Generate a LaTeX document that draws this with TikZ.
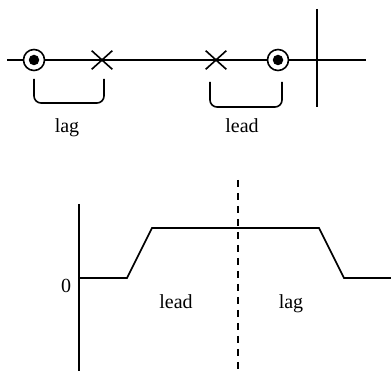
\documentclass[tikz,border=0pt]{standalone}
\usepackage{fontspec}
\setmainfont{Liberation Serif}
\usetikzlibrary{shapes.misc}
\begin{document}
\begin{tikzpicture}[x=1pt,y=-1pt,line width=1.6pt,
  pole/.style={circle,draw,fill=white,minimum size=21pt,inner sep=0pt},
  poledot/.style={circle,fill=black,minimum size=10.5pt,inner sep=0pt},
  zeromark/.style={cross out,draw,minimum width=19pt,minimum height=17pt,inner sep=0pt},
  lbl/.style={font=\fontsize{20}{20}\selectfont,anchor=base,inner sep=0pt},
  bracket/.style={rounded corners=7pt}]
\useasboundingbox (0,0) rectangle (391,371);

% root-locus style axis with poles and zeros
\coordinate (hl) at (7,60);
\coordinate (hr) at (366,60);
\coordinate (vt) at (317,9);
\coordinate (vb) at (317,107);
\draw (hl) -- (hr);
\draw (vt) -- (vb);

\node[pole] (p1) at (34,60) {};
\node[poledot] (d1) at (p1) {};
\node[zeromark] (z1) at (102,60) {};
\node[zeromark] (z2) at (216,60) {};
\node[pole] (p2) at (278,60) {};
\node[poledot] (d2) at (p2) {};

% braces under each pole-zero pair
\coordinate (b1a) at (34,79);
\coordinate (b1b) at (104,79);
\draw[bracket] (b1a) -- (34,103) -- (104,103) -- (b1b);
\coordinate (b2a) at (210,82);
\coordinate (b2b) at (282,82);
\draw[bracket] (b2a) -- (210,107) -- (282,107) -- (b2b);

\node[lbl] (tlag) at (67,133) {lag};
\node[lbl] (tlead) at (242,133) {lead};

% phase plot
\coordinate (at) at (79,204);
\coordinate (ab) at (79,371);
\draw (at) -- (ab);
\coordinate (dt) at (238,180);
\coordinate (db) at (238,371);
\draw[dash pattern=on 7pt off 6pt] (dt) -- (db);

\coordinate (c0) at (79,278);
\coordinate (c1) at (127,278);
\coordinate (c2) at (152,228);
\coordinate (c3) at (319,228);
\coordinate (c4) at (344,278);
\coordinate (c5) at (391,278);
\draw (c0) -- (c1) -- (c2) -- (c3) -- (c4) -- (c5);

\node[lbl] (zero) at (66,293) {0};
\node[lbl] (blead) at (176,309) {lead};
\node[lbl] (blag) at (291,309) {lag};
\end{tikzpicture}
\end{document}
